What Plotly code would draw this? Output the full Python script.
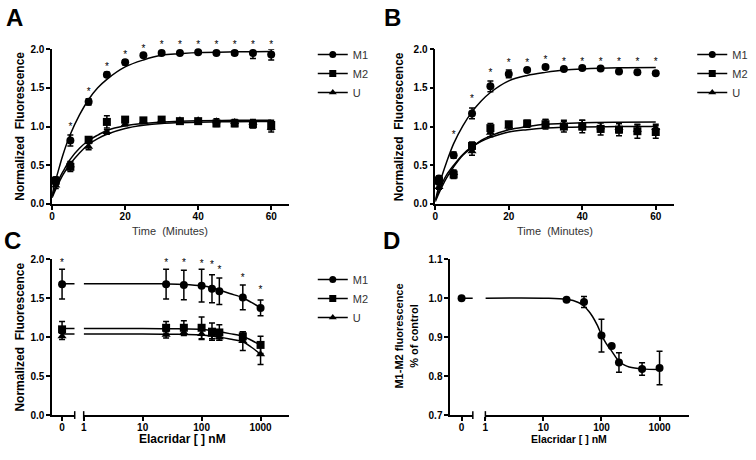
import plotly.graph_objects as go

W, H = 756, 460

# ---------------- data ----------------
time_pts = [1, 5, 10, 15, 20, 25, 30, 35, 40, 45, 50, 55, 60]

a_m1 = [0.31, 0.82, 1.32, 1.67, 1.83, 1.92, 1.95, 1.95, 1.96, 1.95, 1.95, 1.95, 1.93]
a_m1_err = [0.03, 0.07, 0.04, 0.03, 0.03, 0.02, 0.02, 0.02, 0.02, 0.02, 0.03, 0.07, 0.07]
a_m2 = [0.30, 0.48, 0.83, 1.06, 1.09, 1.08, 1.09, 1.07, 1.07, 1.04, 1.04, 1.03, 1.02]
a_m2_err = [0.05, 0.06, 0.04, 0.08, 0.03, 0.02, 0.02, 0.02, 0.03, 0.04, 0.04, 0.05, 0.06]
a_u = [0.24, 0.50, 0.74, 0.93, 1.03, 1.07, 1.08, 1.08, 1.08, 1.07, 1.06, 1.05, 0.98]
a_u_err = [0.04, 0.05, 0.04, 0.03, 0.02, 0.02, 0.02, 0.02, 0.02, 0.03, 0.03, 0.04, 0.05]
a_star_t = [5, 10, 15, 20, 25, 30, 35, 40, 45, 50, 55, 60]
a_star_y = [0.99, 1.44, 1.76, 1.92, 2.0, 2.05, 2.05, 2.05, 2.05, 2.05, 2.05, 2.05]

fit_t = [0, 1, 2, 3, 5, 7.5, 10, 12.5, 15, 20, 25, 30, 35, 40, 50, 60]
a_m1_fit = [0.12, 0.31, 0.48, 0.64, 0.90, 1.15, 1.35, 1.50, 1.61, 1.77, 1.86, 1.92, 1.94, 1.955, 1.965, 1.97]
a_m2_fit = [0.10, 0.22, 0.33, 0.42, 0.58, 0.72, 0.82, 0.89, 0.95, 1.01, 1.04, 1.06, 1.07, 1.075, 1.08, 1.08]
a_u_fit = [0.08, 0.19, 0.29, 0.38, 0.52, 0.66, 0.77, 0.845, 0.90, 0.975, 1.016, 1.04, 1.05, 1.057, 1.063, 1.065]

b_m1 = [0.33, 0.63, 1.17, 1.52, 1.68, 1.73, 1.77, 1.745, 1.755, 1.75, 1.71, 1.70, 1.69]
b_m1_err = [0.03, 0.04, 0.07, 0.07, 0.05, 0.02, 0.02, 0.02, 0.02, 0.02, 0.02, 0.02, 0.02]
b_m2 = [0.30, 0.38, 0.75, 0.98, 1.03, 1.04, 1.03, 1.00, 1.00, 0.97, 0.96, 0.94, 0.93]
b_m2_err = [0.04, 0.05, 0.05, 0.06, 0.03, 0.04, 0.06, 0.07, 0.08, 0.08, 0.08, 0.09, 0.08]
b_u = [0.22, 0.40, 0.68, 0.92, 1.00, 1.02, 1.05, 1.03, 1.02, 0.99, 0.98, 0.96, 0.98]
b_u_err = [0.03, 0.04, 0.05, 0.05, 0.03, 0.03, 0.04, 0.05, 0.06, 0.06, 0.06, 0.06, 0.05]
b_star_t = [5, 10, 15, 20, 25, 30, 35, 40, 45, 50, 55, 60]
b_star_y = [0.89, 1.35, 1.69, 1.82, 1.82, 1.85, 1.83, 1.83, 1.83, 1.83, 1.83, 1.83]

b_m1_fit = [0.05, 0.23, 0.39, 0.53, 0.78, 1.01, 1.19, 1.33, 1.44, 1.59, 1.66, 1.70, 1.73, 1.745, 1.76, 1.764]
b_m2_fit = [0.05, 0.17, 0.28, 0.37, 0.50, 0.64, 0.74, 0.81, 0.86, 0.93, 0.96, 0.98, 0.99, 0.995, 1.0, 1.0]
b_u_fit = [0.03, 0.14, 0.24, 0.33, 0.48, 0.63, 0.73, 0.82, 0.88, 0.96, 1.00, 1.03, 1.04, 1.05, 1.057, 1.06]

conc = [25, 50, 100, 150, 200, 500, 1000]
c_m1_zero, c_m1_zero_err = 1.68, 0.19
c_m2_zero, c_m2_zero_err = 1.10, 0.10
c_u_zero, c_u_zero_err = 1.01, 0.04
c_m1 = [1.68, 1.67, 1.66, 1.62, 1.59, 1.51, 1.375]
c_m1_err = [0.19, 0.19, 0.21, 0.18, 0.17, 0.16, 0.10]
c_m2 = [1.12, 1.12, 1.12, 1.07, 1.06, 1.01, 0.90]
c_m2_err = [0.08, 0.09, 0.14, 0.11, 0.10, 0.06, 0.11]
c_u = [1.03, 1.06, 1.04, 1.03, 1.00, 0.95, 0.78]
c_u_err = [0.04, 0.04, 0.07, 0.05, 0.04, 0.12, 0.13]
c_star_zero = 1.95
c_star_y = [1.95, 1.95, 1.935, 1.925, 1.85, 1.755, 1.60]

fit_c = [1, 10, 25, 50, 100, 150, 200, 300, 500, 700, 1000]
c_m1_fit = [1.685, 1.685, 1.683, 1.677, 1.66, 1.635, 1.605, 1.56, 1.505, 1.445, 1.375]
c_m2_fit = [1.11, 1.11, 1.108, 1.105, 1.10, 1.085, 1.07, 1.045, 1.01, 0.96, 0.895]
c_u_fit = [1.04, 1.04, 1.038, 1.035, 1.028, 1.015, 1.0, 0.975, 0.94, 0.87, 0.78]

d_zero = 1.0
d_val = [0.996, 0.99, 0.904, 0.8775, 0.835, 0.818, 0.821]
d_err = [0.0, 0.014, 0.042, 0.0, 0.025, 0.016, 0.043]
fit_d = [1, 10, 25, 40, 50, 60, 70, 85, 100, 120, 150, 200, 250, 300, 500, 1000]
d_fit = [1.0, 1.0, 0.997, 0.989, 0.98, 0.967, 0.953, 0.930, 0.906, 0.884, 0.864, 0.838, 0.828, 0.8235, 0.8185, 0.817]

series_names = ["M1", "M2", "U"]
symbols = ["circle", "square", "triangle-up"]

# ---------------- helpers ----------------
def fx(p):
    return p / W

def fy(p):
    return 1 - p / H

FONT = "Arial, Liberation Sans, sans-serif"
fig = go.Figure()

def data_trace(x, y, err, sym, xa, ya):
    fig.add_trace(go.Scatter(
        x=x, y=y, mode="markers", showlegend=False,
        marker=dict(symbol=sym, size=8, color="black"),
        error_y=dict(type="data", array=err, visible=True, color="black", thickness=1.5, width=3),
        xaxis=xa, yaxis=ya, cliponaxis=False))

def fit_trace(x, y, xa, ya):
    fig.add_trace(go.Scatter(
        x=x, y=y, mode="lines", showlegend=False,
        line=dict(color="black", width=1.5, shape="spline"),
        xaxis=xa, yaxis=ya, cliponaxis=False, hoverinfo="skip"))

def star_trace(x, y, xa, ya):
    fig.add_trace(go.Scatter(
        x=x, y=y, mode="text", text=["*"] * len(x), textposition="middle center",
        textfont=dict(family=FONT, size=10, color="black"), showlegend=False,
        xaxis=xa, yaxis=ya, cliponaxis=False, hoverinfo="skip"))

def legend_traces(leg):
    for n, s in zip(series_names, symbols):
        fig.add_trace(go.Scatter(
            x=[None], y=[None], mode="lines+markers", name=n, legend=leg,
            marker=dict(symbol=s, size=7, color="black"),
            line=dict(color="black", width=1.5)))

# Panel A (stars on an invisible taller twin of the y axis with the same scale)
for y, e, s in zip([a_m1, a_m2, a_u], [a_m1_err, a_m2_err, a_u_err], symbols):
    data_trace(time_pts, y, e, s, "x", "y")
for f in [a_m1_fit, a_m2_fit, a_u_fit]:
    fit_trace(fit_t, f, "x", "y")
star_trace(a_star_t, a_star_y, "x", "y5")
legend_traces("legend")

# Panel B
for y, e, s in zip([b_m1, b_m2, b_u], [b_m1_err, b_m2_err, b_u_err], symbols):
    data_trace(time_pts, y, e, s, "x2", "y2")
for f in [b_m1_fit, b_m2_fit, b_u_fit]:
    fit_trace(fit_t, f, "x2", "y2")
star_trace(b_star_t, b_star_y, "x2", "y2")
legend_traces("legend2")

# Panel C
C_SEG = [-1, 1.27]
for y0, e0, y, e, s, f in zip([c_m1_zero, c_m2_zero, c_u_zero], [c_m1_zero_err, c_m2_zero_err, c_u_zero_err],
                              [c_m1, c_m2, c_u], [c_m1_err, c_m2_err, c_u_err], symbols,
                              [c_m1_fit, c_m2_fit, c_u_fit]):
    fit_trace([0, C_SEG[1]], [f[0], f[0]], "x3", "y3")
    data_trace([0], [y0], [e0], s, "x3", "y3")
    fit_trace(fit_c, f, "x4", "y3")
    data_trace(conc, y, e, s, "x4", "y3")
star_trace([0], [c_star_zero], "x3", "y3")
star_trace(conc, c_star_y, "x4", "y3")
legend_traces("legend3")

# Panel D
D_SEG = [-1, 0.99]
fit_trace([0, D_SEG[1]], [d_fit[0], d_fit[0]], "x5", "y4")
data_trace([0], [d_zero], [0], "circle", "x5", "y4")
fit_trace(fit_d, d_fit, "x6", "y4")
data_trace(conc, d_val, d_err, "circle", "x6", "y4")

# ---------------- axes ----------------
tick_font = dict(family=FONT, size=10, color="black", weight="bold")
base = dict(showline=True, linecolor="black", linewidth=1.5, ticks="outside", ticklen=4,
            tickwidth=1.5, tickcolor="black", showgrid=False, zeroline=False, tickfont=tick_font)
xbase = dict(base, ticklabelstandoff=-2)

A_TOP, A_BOT = 44.3, 203.3
px_per_unit = (A_BOT - A_TOP) / 2.0
yA = [fy(A_BOT), fy(A_TOP)]
yA_ext = [fy(A_BOT), fy(A_TOP - 0.2 * px_per_unit)]
yC = [fy(420), fy(260)]
layout = dict(
    width=W, height=H, margin=dict(l=0, r=0, t=0, b=0),
    paper_bgcolor="white", plot_bgcolor="rgba(0,0,0,0)",
    xaxis=dict(xbase, domain=[fx(49.3), fx(287.6)], range=[0, 65], tickvals=[0, 20, 40, 60], anchor="y"),
    yaxis=dict(base, domain=yA, range=[0, 2.0], tickvals=[0, 0.5, 1.0, 1.5, 2.0], tickformat=".1f", anchor="x"),
    yaxis5=dict(domain=yA_ext, range=[0, 2.2], visible=False, anchor="x", showgrid=False, zeroline=False),
    xaxis2=dict(xbase, domain=[fx(434), fx(673.8)], range=[0, 65], tickvals=[0, 20, 40, 60], anchor="y2"),
    yaxis2=dict(base, domain=yA, range=[0, 2.0], tickvals=[0, 0.5, 1.0, 1.5, 2.0], tickformat=".1f", anchor="x2"),
    xaxis3=dict(xbase, domain=[fx(49.3), fx(72)], range=C_SEG, tickvals=[0], ticktext=["0"], anchor="y3"),
    xaxis4=dict(xbase, domain=[fx(81), fx(287)], type="log", range=[0, 3.48],
                tickvals=[1, 10, 100, 1000], ticktext=["1", "10", "100", "1000"], anchor="y3"),
    yaxis3=dict(base, domain=yC, range=[0, 2.0], tickvals=[0, 0.5, 1.0, 1.5, 2.0], tickformat=".1f", anchor="x3"),
    xaxis5=dict(xbase, domain=[fx(449), fx(471.7)], range=D_SEG, tickvals=[0], ticktext=["0"], anchor="y4"),
    xaxis6=dict(xbase, domain=[fx(484.3), fx(688.3)], type="log", range=[0, 3.5],
                tickvals=[1, 10, 100, 1000], ticktext=["1", "10", "100", "1000"], anchor="y4"),
    yaxis4=dict(base, domain=yC, range=[0.7, 1.1], tickvals=[0.7, 0.8, 0.9, 1.0, 1.1], tickformat=".1f", anchor="x5"),
    showlegend=True,
)
leg_common = dict(font=dict(family=FONT, size=11, color="#333"), bgcolor="rgba(0,0,0,0)",
                  xanchor="left", yanchor="top", tracegroupgap=0, itemclick=False)
layout["legend"] = dict(leg_common, x=fx(311), y=fy(35))
layout["legend2"] = dict(leg_common, x=fx(692), y=fy(35))
layout["legend3"] = dict(leg_common, x=fx(311), y=fy(266))
fig.update_layout(**layout)

# ---------------- annotations ----------------
ann = []

def label(text, x, y, size, bold=True, angle=0, color="black"):
    ann.append(dict(x=fx(x), y=fy(y), xref="paper", yref="paper", text=text, showarrow=False,
                    textangle=angle, xanchor="center", yanchor="middle",
                    font=dict(family=FONT, size=size, color=color, weight="bold" if bold else "normal")))

label("A", 12, 12, 24)
label("B", 391, 12, 24)
label("C", 10, 241, 24)
label("D", 390, 241, 24)
label("Normalized\u00a0 Fluorescence", 17.5, 123.5, 12, angle=-90)
label("Normalized\u00a0 Fluorescence", 397.5, 123.5, 12, angle=-90)
label("Normalized\u00a0 Fluorescence", 17.5, 340, 12, angle=-90)
label("M1-M2 fluorescence<br>% of control", 405, 339, 11, angle=-90)
label("Time\u00a0 (Minutes)", 168, 231, 11, bold=False, color="#333")
label("Time\u00a0 (Minutes)", 554, 231, 11, bold=False, color="#333")
label("Elacridar [ ] nM", 180, 445, 12)
label("Elacridar [ ] nM", 568, 445, 10.5)

# break marks on the split x axes
shapes = []
for xp, yp in [(72, 420), (81, 420), (471.7, 420), (484.3, 420)]:
    shapes.append(dict(type="line", xref="paper", yref="paper", x0=fx(xp), x1=fx(xp),
                       y0=fy(yp - 4), y1=fy(yp + 4), line=dict(color="black", width=1.5)))

fig.update_layout(annotations=ann, shapes=shapes)
fig.write_html(
    "out.html",
    config={"displayModeBar": False},
    post_script="document.body.style.margin='0';document.body.style.padding='0';"
                "document.body.style.overflow='hidden';",
)
